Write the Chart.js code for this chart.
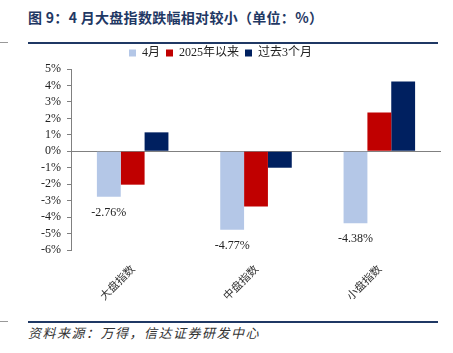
<!DOCTYPE html>
<html>
<head>
<meta charset="utf-8">
<script src="https://cdn.jsdelivr.net/npm/chart.js@4.4.1/dist/chart.umd.min.js"></script>
<style>
  body { margin: 0; background: #fff; width: 453px; height: 353px; overflow: hidden; position: relative; }
  .title { position: absolute; left: 28px; top: 7px; font: bold 14px "Noto Sans CJK SC", sans-serif; color: #1F3864; white-space: nowrap; letter-spacing: 0.3px; }
  .rule { position: absolute; left: 28px; width: 410px; height: 2px; background: #1F3864; }
  .dash { position: absolute; left: 0; width: 8px; height: 1px; background: #999; }
  .source { position: absolute; left: 28px; top: 323px; font: italic 13px "Noto Sans CJK SC", sans-serif; color: #333; white-space: nowrap; letter-spacing: 1.5px; }
  .wrap { position: absolute; left: 0; top: 37px; width: 453px; height: 283px; }
</style>
</head>
<body>
<div class="title">图 9：4 月大盘指数跌幅相对较小（单位：%）</div>
<div class="dash" style="top:42px"></div>
<div class="rule" style="top:42px"></div>
<div class="wrap"><canvas id="bar-chart"></canvas></div>
<div class="dash" style="top:321px"></div>
<div class="rule" style="top:321px"></div>
<div class="source">资料来源：万得，信达证券研发中心</div>

<script>
    // data
    const categories = ['大盘指数', '中盘指数', '小盘指数'];
    const april = [-2.76, -4.77, -4.38];
    const since2025 = [-2.03, -3.35, 2.35];
    const last3Months = [1.15, -1.0, 4.24];

    const serif = '"Liberation Serif", "Times New Roman", "Noto Sans CJK SC", serif';

    // value labels under the 4月 bars
    const labelPlugin = {
        id: 'aprilLabels',
        afterDatasetsDraw(chart) {
            const ctx = chart.ctx;
            const meta = chart.getDatasetMeta(0);
            ctx.save();
            ctx.font = '12px ' + serif;
            ctx.fillStyle = '#222';
            ctx.textAlign = 'center';
            ctx.textBaseline = 'middle';
            meta.data.forEach(function (bar, i) {
                ctx.fillText(april[i].toFixed(2) + '%', bar.x, bar.y + 16);
            });
            ctx.restore();
        }
    };

    const barChart = document.getElementById('bar-chart');

    new Chart(barChart, {
        type: 'bar',
        data: {
            labels: categories,
            datasets: [{
                label: '4月',
                data: april,
                backgroundColor: '#B4C7E7'
            }, {
                label: '2025年以来',
                data: since2025,
                backgroundColor: '#C00000'
            }, {
                label: '过去3个月',
                data: last3Months,
                backgroundColor: '#002060'
            }]
        },
        options: {
            responsive: true,
            maintainAspectRatio: false,
            animation: false,
            datasets: {
                bar: {
                    categoryPercentage: 0.58,
                    barPercentage: 1.0
                }
            },
            layout: {
                padding: { left: 0, right: 12, top: 4, bottom: 0 }
            },
            plugins: {
                tooltip: { enabled: false },
                legend: {
                    position: 'top',
                    labels: {
                        boxWidth: 7,
                        boxHeight: 7,
                        padding: 6,
                        color: '#222',
                        font: { size: 12, family: serif }
                    }
                }
            },
            scales: {
                x: {
                    grid: { display: false },
                    border: { display: false },
                    ticks: {
                        minRotation: 45,
                        maxRotation: 45,
                        color: '#333',
                        padding: 4,
                        font: { size: 11, family: '"Noto Sans CJK SC", sans-serif' }
                    },
                    afterFit: function (scale) { scale.height = 70; }
                },
                y: {
                    min: -6,
                    max: 5,
                    border: { display: true, color: '#808080', width: 1 },
                    grid: {
                        drawOnChartArea: true,
                        tickLength: 4,
                        tickColor: '#808080',
                        color: function (c) { return c.tick && c.tick.value === 0 ? '#808080' : 'rgba(0,0,0,0)'; }
                    },
                    ticks: {
                        stepSize: 1,
                        autoSkip: false,
                        padding: 6,
                        color: '#222',
                        font: { size: 12, family: serif },
                        callback: function (v) { return v + '%'; }
                    },
                    afterFit: function (scale) { scale.width = 71; }
                }
            }
        },
        plugins: [labelPlugin]
    });
</script>
</body>
</html>
